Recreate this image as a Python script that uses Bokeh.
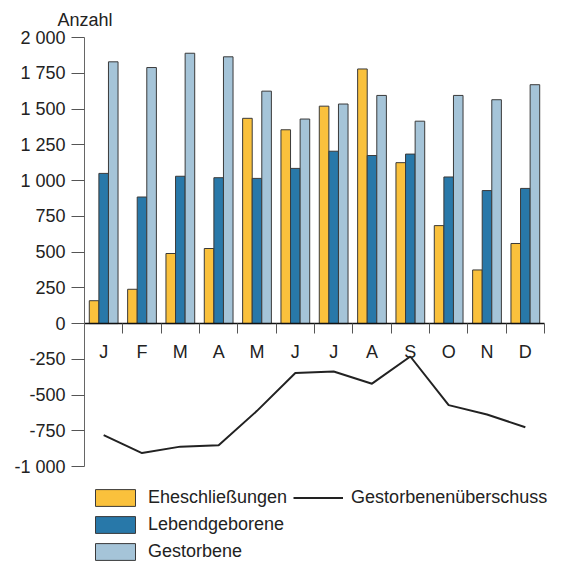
from bokeh.plotting import figure
from bokeh.models import FixedTicker, Legend, LegendItem, ColumnDataSource, Range1d
from bokeh.transform import dodge
from bokeh.embed import file_html
from bokeh.resources import INLINE

months = ["J", "F", "M", "A", "M", "J", "J", "A", "S", "O", "N", "D"]
eheschliessungen = [160, 240, 490, 525, 1435, 1355, 1520, 1780, 1125, 685, 375, 560]
lebendgeborene = [1050, 885, 1030, 1020, 1015, 1085, 1205, 1175, 1185, 1025, 930, 945]
gestorbene = [1830, 1790, 1890, 1865, 1625, 1430, 1535, 1595, 1415, 1595, 1565, 1670]
ueberschuss = [-780, -905, -860, -850, -610, -345, -335, -420, -230, -570, -635, -725]
y_ticks = [-1000, -750, -500, -250, 0, 250, 500, 750, 1000, 1250, 1500, 1750, 2000]
y_tick_labels = ["-1 000", "-750", "-500", "-250", "0", "250", "500", "750",
                 "1 000", "1 250", "1 500", "1 750", "2 000"]

FONT = "Liberation Sans"
FS = "18px"
TXT = "#222222"

n = len(months)
centers = [i + 0.5 for i in range(n)]
src = ColumnDataSource(dict(x=centers, ehe=eheschliessungen, leb=lebendgeborene,
                            ges=gestorbene, ueb=ueberschuss))

p = figure(width=556, height=562, output_backend="svg", toolbar_location=None,
           x_range=Range1d(0, n * 472 / 460), y_range=Range1d(-1670, 2000),
           min_border_left=84, min_border_right=0, min_border_top=36,
           min_border_bottom=0)
p.outline_line_color = None
p.grid.visible = False
p.background_fill_color = "white"
p.border_fill_color = "white"

bw = 0.25
outline = "#3a3a3a"
r1 = p.vbar(x=dodge("x", -bw, range=p.x_range), top="ehe", bottom=0, width=bw, source=src,
            fill_color="#FAC13C", line_color=outline, line_width=1)
r2 = p.vbar(x=dodge("x", 0, range=p.x_range), top="leb", bottom=0, width=bw, source=src,
            fill_color="#2878A9", line_color=outline, line_width=1)
r3 = p.vbar(x=dodge("x", bw, range=p.x_range), top="ges", bottom=0, width=bw, source=src,
            fill_color="#A5C4D8", line_color=outline, line_width=1)
r4 = p.line(x="x", y="ueb", source=src, line_color="#222222", line_width=2)

# x axis fixed at zero
xa = p.xaxis[0]
xa.fixed_location = 0
xa.bounds = (0, n)
xa.ticker = FixedTicker(ticks=centers, minor_ticks=list(range(n + 1)))
xa.major_label_overrides = {c: m for c, m in zip(centers, months)}
xa.major_tick_out = 0
xa.major_tick_in = 0
xa.minor_tick_out = 10
xa.minor_tick_in = 0
xa.minor_tick_line_color = "#555555"
xa.axis_line_color = "#111111"
xa.axis_line_width = 1.5
xa.major_label_standoff = 8
xa.major_label_text_font = FONT
xa.major_label_text_font_size = FS
xa.major_label_text_color = TXT

ya = p.yaxis[0]
ya.ticker = FixedTicker(ticks=y_ticks, minor_ticks=[])
ya.major_label_overrides = {t: l for t, l in zip(y_ticks, y_tick_labels)}
ya.bounds = (y_ticks[0], y_ticks[-1])
ya.major_tick_out = 13
ya.major_tick_in = 0
ya.major_tick_line_color = "#555555"
ya.axis_line_color = "#666666"
ya.major_label_standoff = 6
ya.major_label_text_font = FONT
ya.major_label_text_font_size = FS
ya.major_label_text_color = TXT

p.title.text = "Anzahl"
p.title.align = "left"
p.title.offset = -27
p.title.standoff = 15
p.title.text_font = FONT
p.title.text_font_size = FS
p.title.text_font_style = "normal"
p.title.text_color = TXT

legend = Legend(items=[
    LegendItem(label="Eheschließungen", renderers=[r1]),
    LegendItem(label="Lebendgeborene", renderers=[r2]),
    LegendItem(label="Gestorbene", renderers=[r3]),
    LegendItem(label="Gestorbenenüberschuss", renderers=[r4]),
], nrows=3, orientation="vertical", location=(6, 0))
legend.glyph_width = 50
legend.glyph_height = 21
legend.label_height = 21
legend.label_standoff = 8
legend.spacing = 6
legend.padding = 0
legend.margin = 0
legend.border_line_color = None
legend.background_fill_alpha = 0
legend.label_text_font = FONT
legend.label_text_font_size = FS
legend.label_text_color = TXT
p.add_layout(legend, "center")

open("out.html", "w").write(file_html(p, INLINE))
